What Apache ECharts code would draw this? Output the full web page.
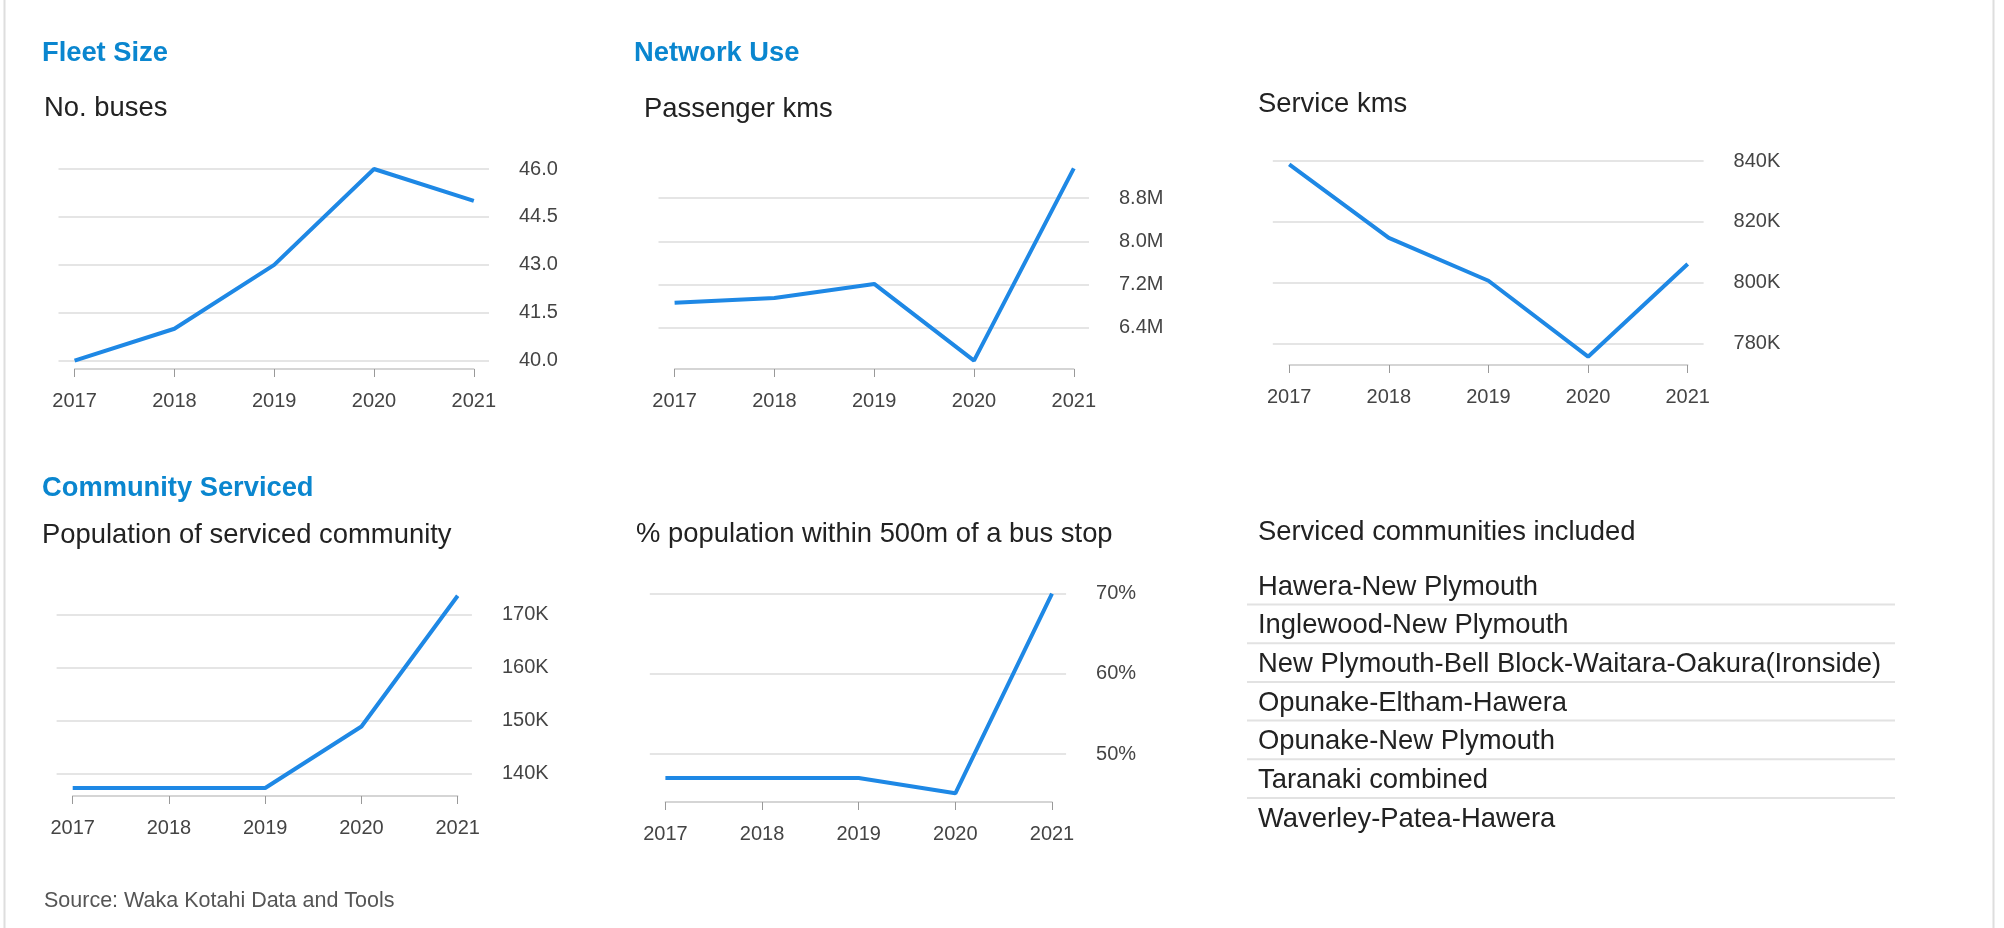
<!DOCTYPE html>
<html>
<head>
<meta charset="utf-8">
<title>Taranaki bus network</title>
<script src="https://cdn.jsdelivr.net/npm/echarts@6/dist/echarts.min.js"></script>
<style>
  html, body { margin: 0; padding: 0; background: #fff; }
  #main { width: 2004px; height: 928px; }
</style>
</head>
<body>
<div id="main"></div>
<script>
// data
var years = ['2017', '2018', '2019', '2020', '2021'];

var fleetSize = [40, 41, 43, 46, 45];
var fleetTicks = [40, 41.5, 43, 44.5, 46];

var passengerKms = [6860000, 6950000, 7210000, 5790000, 9350000];
var passengerTicks = [6400000, 7200000, 8000000, 8800000];

var serviceKms = [838900, 814700, 800600, 775600, 806100];
var serviceTicks = [780000, 800000, 820000, 840000];

var population = [137300, 137300, 137300, 148900, 173600];
var populationTicks = [140000, 150000, 160000, 170000];

var pctNearStop = [47.0, 47.0, 47.0, 45.1, 70.0];
var pctTicks = [50, 60, 70];

var communities = [
    'Hawera-New Plymouth',
    'Inglewood-New Plymouth',
    'New Plymouth-Bell Block-Waitara-Oakura(Ironside)',
    'Opunake-Eltham-Hawera',
    'Opunake-New Plymouth',
    'Taranaki combined',
    'Waverley-Patea-Hawera'
];

var FONT = '"Liberation Sans", Arial, Helvetica, sans-serif';
var LINE_COLOR = '#1e88e5';

var chart = echarts.init(document.getElementById('main'));

var grids = [], xAxes = [], yAxes = [], series = [];

// each small chart = a narrow grid (years, line) + a wider grid (gridlines, right labels)
var addChart = function (values, ticks, fmt, box) {
    var lo = Math.min(Math.min.apply(null, values), ticks[0]);
    var hi = Math.max(Math.max.apply(null, values), ticks[ticks.length - 1]);
    var h = box.bottom - box.top;

    var gWide = grids.length;
    grids.push({left: box.gridLeft, top: box.top, width: box.gridRight - box.gridLeft, height: h});
    xAxes.push({type: 'value', gridIndex: gWide, show: false, min: 0, max: 1});
    yAxes.push({
        type: 'value', gridIndex: gWide, position: 'right', min: lo, max: hi,
        axisLine: {show: false},
        axisTick: {show: false, customValues: ticks},
        axisLabel: {
            customValues: ticks, margin: 30, color: '#444', fontSize: 20, fontFamily: FONT,
            padding: [3, 0, 0, 0],
            formatter: fmt
        },
        splitLine: {show: true, lineStyle: {color: '#dcdcdc', width: 1.5}}
    });

    var gNarrow = grids.length;
    grids.push({left: box.plotLeft, top: box.top, width: box.plotRight - box.plotLeft, height: h});
    xAxes.push({
        type: 'category', gridIndex: gNarrow, data: years, boundaryGap: false,
        offset: box.axisY - box.bottom,
        axisLine: {lineStyle: {color: '#c8c8c8', width: 1.5}},
        axisTick: {length: 8, lineStyle: {color: '#999'}},
        axisLabel: {interval: 0, margin: 22, color: '#444', fontSize: 20, fontFamily: FONT},
        splitLine: {show: false}
    });
    var yIdx = yAxes.length;
    yAxes.push({type: 'value', gridIndex: gNarrow, min: lo, max: hi, show: false, splitLine: {show: false}});

    series.push({
        type: 'line',
        xAxisIndex: xAxes.length - 1,
        yAxisIndex: yIdx,
        data: values,
        showSymbol: false,
        clip: false,
        lineStyle: {color: LINE_COLOR, width: 4},
        itemStyle: {color: LINE_COLOR}
    });
};

addChart(fleetSize, fleetTicks, function (v) { return v.toFixed(1); },
    {plotLeft: 74.6, plotRight: 473.8, gridLeft: 58.5, gridRight: 489, top: 169, bottom: 360.7, axisY: 369});
addChart(passengerKms, passengerTicks, function (v) { return (v / 1e6).toFixed(1) + 'M'; },
    {plotLeft: 674.6, plotRight: 1073.8, gridLeft: 658.5, gridRight: 1089, top: 168.3, bottom: 360.7, axisY: 369});
addChart(serviceKms, serviceTicks, function (v) { return Math.round(v / 1000) + 'K'; },
    {plotLeft: 1289.2, plotRight: 1687.7, gridLeft: 1272.8, gridRight: 1703.6, top: 161, bottom: 356.7, axisY: 365});
addChart(population, populationTicks, function (v) { return Math.round(v / 1000) + 'K'; },
    {plotLeft: 72.7, plotRight: 457.7, gridLeft: 56.6, gridRight: 471.9, top: 595.7, bottom: 788, axisY: 796});
addChart(pctNearStop, pctTicks, function (v) { return v + '%'; },
    {plotLeft: 665.4, plotRight: 1052, gridLeft: 649.8, gridRight: 1066.1, top: 593.7, bottom: 793.3, axisY: 802});

var txt = function (x, y, text, font, fill) {
    return {
        type: 'text', x: x, y: y, silent: true,
        style: {text: text, font: font, fill: fill, verticalAlign: 'middle', align: 'left'}
    };
};
var hline = function (x1, x2, y, color, w) {
    return {type: 'line', silent: true, shape: {x1: x1, y1: y, x2: x2, y2: y}, style: {stroke: color, lineWidth: w}};
};

var BLUE = '#0a86cf';
var HEAD = 'bold 27.3px ' + FONT;
var SUB = '27.4px ' + FONT;

var graphics = [
    // panel borders
    {type: 'line', silent: true, shape: {x1: 4.5, y1: 0, x2: 4.5, y2: 928}, style: {stroke: '#dedede', lineWidth: 2}},
    {type: 'line', silent: true, shape: {x1: 1993.5, y1: 0, x2: 1993.5, y2: 928}, style: {stroke: '#dedede', lineWidth: 2}},

    txt(42, 53, 'Fleet Size', HEAD, BLUE),
    txt(634, 53, 'Network Use', HEAD, BLUE),
    txt(42, 488, 'Community Serviced', HEAD, BLUE),

    txt(44, 108, 'No. buses', SUB, '#222'),
    txt(644, 109, 'Passenger kms', SUB, '#222'),
    txt(1258, 104, 'Service kms', SUB, '#222'),
    txt(42, 535, 'Population of serviced community', SUB, '#222'),
    txt(636, 534, '% population within 500m of a bus stop', SUB, '#222'),
    txt(1258, 532, 'Serviced communities included', SUB, '#222'),

    txt(44, 901, 'Source: Waka Kotahi Data and Tools', '21.5px ' + FONT, '#555')
];

// list of serviced communities
for (var i = 0; i < communities.length; i++) {
    graphics.push(txt(1258, 587 + i * 38.7, communities[i], SUB, '#222'));
    if (i < communities.length - 1) {
        graphics.push(hline(1247, 1895, 604.5 + i * 38.7, '#e2e2e2', 2));
    }
}

var option = {
    backgroundColor: '#fff',
    animation: false,
    grid: grids,
    xAxis: xAxes,
    yAxis: yAxes,
    series: series,
    graphic: graphics
};

chart.setOption(option);
</script>
</body>
</html>
